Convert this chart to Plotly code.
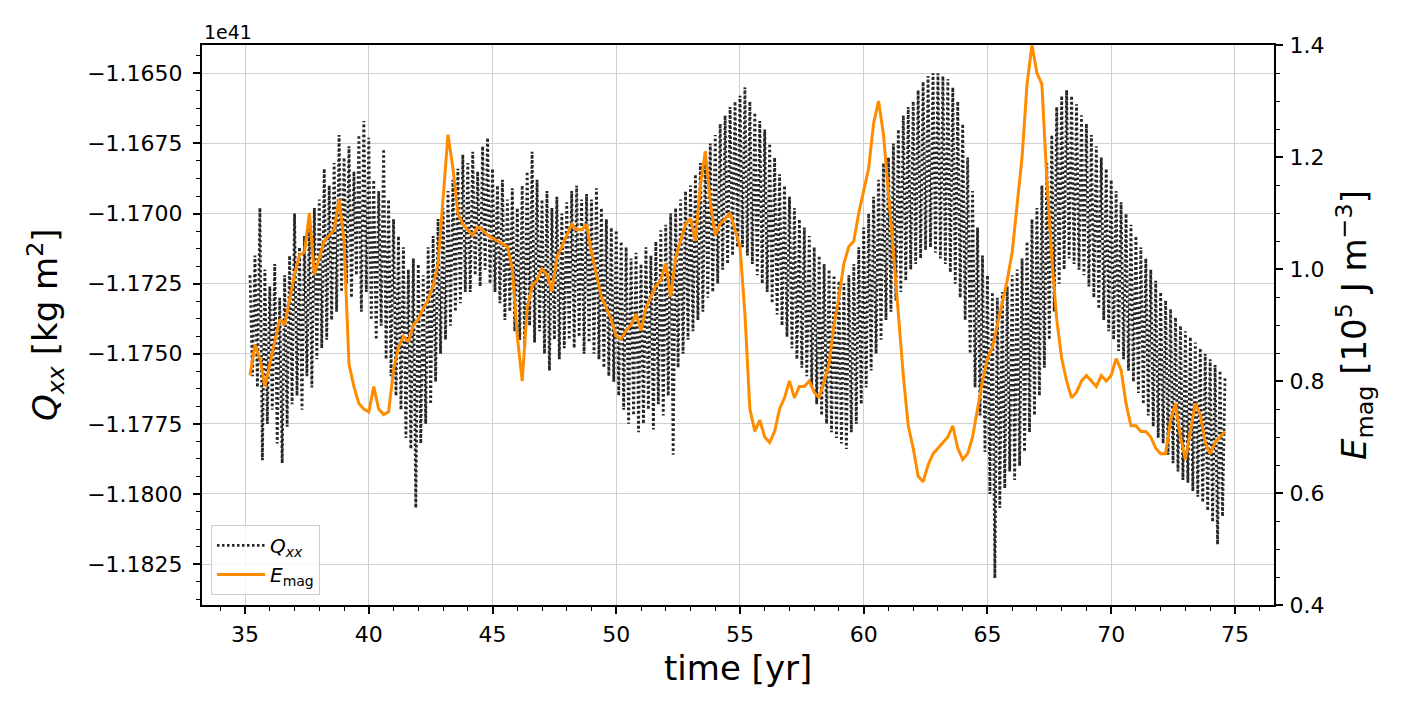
import numpy as np
import plotly.graph_objects as go

# sampling of the two series (yr)
T0_Q, DT_Q = 35.2, 0.1
T0_E, DT_E = 35.2, 0.2

# Q_xx in units of 1e41 kg m^2
qxx = [
    -1.1722, -1.1758, -1.1715, -1.1762, -1.1698, -1.1788, -1.1720, -1.1775,
    -1.1726, -1.1770, -1.1718, -1.1782, -1.1730, -1.1789, -1.1722, -1.1776, -1.1715, -1.1768,
    -1.1700, -1.1765, -1.1712, -1.1770, -1.1708, -1.1758, -1.1702, -1.1762, -1.1698, -1.1752,
    -1.1695, -1.1748, -1.1684, -1.1745, -1.1690, -1.1738, -1.1682, -1.1735, -1.1672, -1.1728,
    -1.1680, -1.1725, -1.1676, -1.1730, -1.1685, -1.1722, -1.1672, -1.1735, -1.1667, -1.1728,
    -1.1673, -1.1738, -1.1688, -1.1745, -1.1692, -1.1740, -1.1677, -1.1752, -1.1695, -1.1758,
    -1.1702, -1.1765, -1.1708, -1.1770, -1.1712, -1.1780, -1.1720, -1.1784, -1.1716, -1.1805,
    -1.1718, -1.1782, -1.1722, -1.1775, -1.1712, -1.1768, -1.1708, -1.1760, -1.1702, -1.1750,
    -1.1698, -1.1745, -1.1692, -1.1740, -1.1688, -1.1735, -1.1684, -1.1732, -1.1679, -1.1728,
    -1.1682, -1.1728, -1.1678, -1.1722, -1.1685, -1.1726, -1.1676, -1.1720, -1.1673, -1.1725,
    -1.1684, -1.1728, -1.1690, -1.1732, -1.1688, -1.1738, -1.1695, -1.1735, -1.1691, -1.1742,
    -1.1698, -1.1745, -1.1690, -1.1748, -1.1685, -1.1740, -1.1678, -1.1746, -1.1688, -1.1742,
    -1.1695, -1.1750, -1.1692, -1.1756, -1.1698, -1.1745, -1.1694, -1.1752, -1.1700, -1.1748,
    -1.1696, -1.1745, -1.1692, -1.1748, -1.1690, -1.1744, -1.1695, -1.1750, -1.1693, -1.1746,
    -1.1695, -1.1750, -1.1691, -1.1752, -1.1698, -1.1755, -1.1702, -1.1758, -1.1705, -1.1760,
    -1.1706, -1.1765, -1.1710, -1.1770, -1.1712, -1.1775, -1.1716, -1.1772, -1.1714, -1.1778,
    -1.1718, -1.1775, -1.1712, -1.1770, -1.1715, -1.1777, -1.1710, -1.1768, -1.1706, -1.1772,
    -1.1704, -1.1765, -1.1700, -1.1786, -1.1698, -1.1755, -1.1695, -1.1750, -1.1692, -1.1745,
    -1.1690, -1.1742, -1.1686, -1.1738, -1.1682, -1.1735, -1.1678, -1.1730, -1.1675, -1.1728,
    -1.1672, -1.1725, -1.1668, -1.1720, -1.1665, -1.1718, -1.1662, -1.1715, -1.1660, -1.1712,
    -1.1658, -1.1712, -1.1655, -1.1715, -1.1660, -1.1718, -1.1664, -1.1722, -1.1667, -1.1725,
    -1.1670, -1.1728, -1.1675, -1.1732, -1.1680, -1.1736, -1.1686, -1.1740, -1.1690, -1.1744,
    -1.1694, -1.1748, -1.1698, -1.1752, -1.1702, -1.1755, -1.1705, -1.1758, -1.1708, -1.1762,
    -1.1712, -1.1768, -1.1715, -1.1772, -1.1718, -1.1775, -1.1720, -1.1778, -1.1722, -1.1780,
    -1.1724, -1.1782, -1.1725, -1.1784, -1.1722, -1.1778, -1.1718, -1.1775, -1.1712, -1.1768,
    -1.1705, -1.1762, -1.1700, -1.1756, -1.1694, -1.1750, -1.1688, -1.1745, -1.1682, -1.1738,
    -1.1680, -1.1735, -1.1675, -1.1731, -1.1670, -1.1728, -1.1665, -1.1724, -1.1662, -1.1720,
    -1.1660, -1.1718, -1.1656, -1.1716, -1.1653, -1.1713, -1.1651, -1.1712, -1.1650, -1.1714,
    -1.1650, -1.1716, -1.1651, -1.1718, -1.1652, -1.1721, -1.1655, -1.1725, -1.1660, -1.1730,
    -1.1668, -1.1738, -1.1680, -1.1750, -1.1692, -1.1762, -1.1705, -1.1772, -1.1715, -1.1785,
    -1.1722, -1.1800, -1.1728, -1.1830, -1.1730, -1.1805, -1.1728, -1.1798, -1.1726, -1.1792,
    -1.1722, -1.1795, -1.1720, -1.1790, -1.1716, -1.1785, -1.1710, -1.1778, -1.1702, -1.1772,
    -1.1698, -1.1765, -1.1690, -1.1755, -1.1682, -1.1745, -1.1672, -1.1735, -1.1662, -1.1725,
    -1.1658, -1.1720, -1.1656, -1.1716, -1.1658, -1.1718, -1.1661, -1.1720, -1.1665, -1.1722,
    -1.1668, -1.1726, -1.1672, -1.1730, -1.1676, -1.1734, -1.1680, -1.1738, -1.1684, -1.1742,
    -1.1688, -1.1745, -1.1692, -1.1749, -1.1696, -1.1752, -1.1700, -1.1756, -1.1704, -1.1760,
    -1.1708, -1.1764, -1.1712, -1.1768, -1.1716, -1.1772, -1.1720, -1.1776, -1.1724, -1.1780,
    -1.1728, -1.1782, -1.1731, -1.1786, -1.1734, -1.1789, -1.1737, -1.1792, -1.1740, -1.1795,
    -1.1742, -1.1796, -1.1744, -1.1799, -1.1746, -1.1801, -1.1748, -1.1803, -1.1750, -1.1806,
    -1.1752, -1.1810, -1.1754, -1.1818, -1.1756, -1.1808, -1.1758,
]

# E_mag in units of 1e5 J m^-3
emag = [
    0.81, 0.865, 0.84, 0.79,
    0.83, 0.87, 0.91, 0.90, 0.945,
    0.99, 1.025, 1.03, 1.10, 0.99,
    1.02, 1.05, 1.06, 1.07, 1.125,
    1.05, 0.83, 0.79, 0.76, 0.75,
    0.745, 0.79, 0.75, 0.74, 0.745,
    0.82, 0.86, 0.88, 0.87, 0.90,
    0.91, 0.93, 0.945, 0.97, 1.01,
    1.12, 1.24, 1.18, 1.10, 1.08,
    1.07, 1.06, 1.075, 1.07, 1.06,
    1.055, 1.05, 1.045, 1.04, 1.00,
    0.88, 0.80, 0.93, 0.97, 0.98,
    1.00, 0.99, 0.96, 1.02, 1.04,
    1.06, 1.08, 1.07, 1.07, 1.08,
    1.03, 0.99, 0.95, 0.93, 0.91,
    0.88, 0.875, 0.89, 0.90, 0.92,
    0.89, 0.93, 0.95, 0.97, 0.98,
    1.01, 0.95, 1.02, 1.05, 1.08,
    1.09, 1.05, 1.15, 1.21, 1.12,
    1.06, 1.08, 1.09, 1.10, 1.07,
    1.04, 0.92, 0.75, 0.71, 0.73,
    0.70, 0.69, 0.71, 0.75, 0.77,
    0.80, 0.77, 0.79, 0.79, 0.80,
    0.78, 0.77, 0.80, 0.83, 0.90,
    0.95, 1.01, 1.04, 1.05, 1.10,
    1.14, 1.18, 1.26, 1.30, 1.24,
    1.14, 1.03, 0.92, 0.81, 0.72,
    0.68, 0.63, 0.62, 0.65, 0.67,
    0.68, 0.69, 0.70, 0.72, 0.68,
    0.66, 0.67, 0.70, 0.75, 0.80,
    0.84, 0.86, 0.90, 0.94, 0.98,
    1.03, 1.11, 1.20, 1.33, 1.40,
    1.35, 1.33, 1.16, 1.02, 0.91,
    0.84, 0.80, 0.77, 0.78, 0.80,
    0.81, 0.80, 0.79, 0.81, 0.80,
    0.81, 0.84, 0.82, 0.76, 0.72,
    0.72, 0.71, 0.71, 0.70, 0.68,
    0.67, 0.67, 0.73, 0.76, 0.70,
    0.66, 0.71, 0.76, 0.74, 0.69,
    0.67, 0.69, 0.70, 0.71,
]

t_q = np.round(T0_Q + DT_Q * np.arange(len(qxx)), 3)
t_e = np.round(T0_E + DT_E * np.arange(len(emag)), 3)

FONT = "DejaVu Sans"

fig = go.Figure()
fig.add_trace(go.Scatter(
    x=t_q, y=qxx, mode="lines", yaxis="y",
    name="<i>Q</i><sub><i>xx</i></sub>",
    line=dict(color="#262626", width=2.8, dash="2.5px,2.5px"),
))
fig.add_trace(go.Scatter(
    x=t_e, y=emag, mode="lines", yaxis="y2",
    name="<i>E</i><sub>mag</sub>",
    line=dict(color="#ff8c00", width=3),
))

fig.update_layout(
    width=1413, height=714,
    margin=dict(l=202, r=139, t=45, b=109, autoexpand=False),
    paper_bgcolor="white", plot_bgcolor="white",
    font=dict(family=FONT, color="black", size=22),
    showlegend=True,
    legend=dict(
        x=0.0084, y=0.018, xanchor="left", yanchor="bottom",
        bgcolor="rgba(255,255,255,0.8)", bordercolor="#cccccc", borderwidth=1,
        font=dict(family=FONT, size=20), itemwidth=48, tracegroupgap=0,
    ),
    xaxis=dict(
        range=[33.26, 76.58], tick0=35, dtick=5,
        ticks="outside", ticklen=7, tickwidth=1.5, tickcolor="black",
        showline=True, linecolor="black", linewidth=2, mirror=True,
        showgrid=True, gridcolor="#d0d0d0", gridwidth=1.4, zeroline=False,
        tickfont=dict(family=FONT, size=22), ticklabelstandoff=2,
        minor=dict(dtick=1, tick0=35, ticks="outside", ticklen=4,
                   tickwidth=1.2, tickcolor="black", showgrid=False),
    ),
    yaxis=dict(
        range=[-1.18396, -1.16399], tick0=-1.165, dtick=0.0025,
        tickformat=".4f",
        ticks="outside", ticklen=7, tickwidth=1.5, tickcolor="black",
        showline=True, linecolor="black", linewidth=2,
        showgrid=True, gridcolor="#d0d0d0", gridwidth=1.4, zeroline=False,
        tickfont=dict(family=FONT, size=22), ticklabelstandoff=6,
        minor=dict(dtick=0.000625, tick0=-1.165, ticks="outside", ticklen=4,
                   tickwidth=1.2, tickcolor="black", showgrid=False),
    ),
    yaxis2=dict(
        overlaying="y", side="right",
        range=[0.4, 1.4], tick0=0.4, dtick=0.2, tickformat=".1f",
        ticks="outside", ticklen=7, tickwidth=1.5, tickcolor="black",
        showline=True, linecolor="black", linewidth=2,
        showgrid=False, zeroline=False,
        tickfont=dict(family=FONT, size=22), ticklabelstandoff=2,
        minor=dict(dtick=0.05, tick0=0.4, ticks="outside", ticklen=4,
                   tickwidth=1.2, tickcolor="black", showgrid=False),
    ),
    annotations=[
        dict(text="1e41", xref="paper", yref="paper", x=0.0, y=1.0,
             xanchor="left", yanchor="bottom", yshift=0, showarrow=False,
             font=dict(family=FONT, size=19)),
        dict(text="<i>Q</i><sub><i>xx</i></sub> [kg m<sup>2</sup>]",
             xref="paper", yref="paper", x=(45 - 202) / 1072, y=0.5,
             xanchor="center", yanchor="middle", textangle=-90, showarrow=False,
             font=dict(family=FONT, size=34)),
        dict(text="<i>E</i><sub>mag</sub> [10<sup>5</sup> J m<sup>\u22123</sup>]",
             xref="paper", yref="paper", x=(1354 - 202) / 1072, y=0.5,
             xanchor="center", yanchor="middle", textangle=-90, showarrow=False,
             font=dict(family=FONT, size=34)),
        dict(text="time [yr]", xref="paper", yref="paper",
             x=0.5, y=(605 - 668) / 560,
             xanchor="center", yanchor="middle", showarrow=False,
             font=dict(family=FONT, size=34)),
    ],
)

fig.write_html("out.html")
